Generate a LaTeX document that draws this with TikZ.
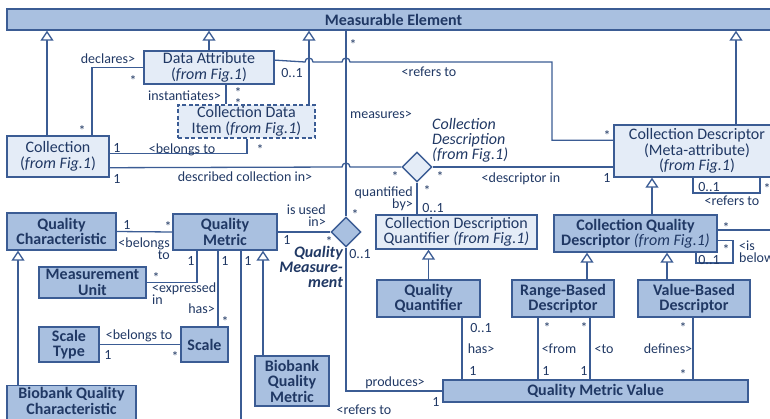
\documentclass[tikz,border=0pt]{standalone}
\usepackage{fontspec}
\setmainfont{Carlito}
\usetikzlibrary{positioning,arrows.meta,calc,shapes.geometric}
\definecolor{navy700}{HTML}{3B5C94}
\definecolor{navy900}{HTML}{203864}
\definecolor{navy300}{HTML}{A9C0E0}
\definecolor{navy100}{HTML}{E4ECF7}
\newcommand{\fromfig}{\textit{from Fig.1}}
\tikzset{
  cls/.style  ={draw=navy700, line width=1.4pt, fill=navy100, align=center,
                inner sep=2pt, text=navy900,
                font=\fontsize{16}{15.5}\selectfont},
  clsq/.style ={cls, fill=navy300,
                font=\bfseries\fontsize{16}{15.5}\selectfont},
  clsn/.style ={cls, dash pattern=on 4pt off 2.5pt},
  dia/.style  ={diamond, draw=navy700, line width=1.4pt, fill=navy100,
                minimum width=30pt, minimum height=30pt, inner sep=0pt},
  diaq/.style ={dia, fill=navy300},
  ln/.style   ={draw=navy700, line width=1.3pt},
  gen/.style  ={ln, -{Triangle[length=10pt,width=13pt,fill=white]}},
  lab/.style  ={font=\fontsize{14}{12}\selectfont, text=navy900,
                inner sep=0pt, anchor=base},
  labr/.style ={lab, anchor=base east, align=right},
  labl/.style ={lab, anchor=base west, align=left},
  note/.style ={font=\itshape\fontsize{16}{15}\selectfont, text=navy900,
                align=left, inner sep=0pt},
  noteb/.style={note, font=\bfseries\itshape\fontsize{16}{15}\selectfont,
                align=right}
}
\begin{document}
\begin{tikzpicture}[x=1pt,y=-1pt]
\useasboundingbox (0,0) rectangle (770,418);
\clip (0,0) rectangle (770,418);
% classes, centres in pixels of the page
\node[clsq, minimum width=773pt, minimum height=21pt] (me) at (393.5,19.5)
  {Measurable Element};
\node[cls, minimum width=130pt, minimum height=31pt] (da) at (209,67.5)
  {Data Attribute\\(\fromfig)};
\node[clsn, minimum width=137pt, minimum height=31pt] (cdi) at (246.5,121.5)
  {Collection Data\\Item (\fromfig)};
\node[cls, minimum width=102pt, minimum height=41pt] (coll) at (58,156.5)
  {Collection\\(\fromfig)};
\node[cls, minimum width=166pt, minimum height=52pt] (cdesc) at (697,151)
  {Collection Descriptor\\(Meta-attribute)\\(\fromfig)};
\node[cls, minimum width=161pt, minimum height=34pt] (cdq) at (456.5,232)
  {Collection Description\\Quantifier \textit{(from Fig.1)}};
\node[clsq, minimum width=103pt, minimum height=37pt] (qq) at (428.5,298.5)
  {Quality\\Quantifier};
\node[clsq, minimum width=305pt, minimum height=22pt] (qmv) at (595.5,391)
  {Quality Metric Value};
\node[clsq, minimum width=163pt, minimum height=37pt] (cqd) at (635.5,233.5)
  {Collection Quality\\Descriptor {\mdseries\itshape (from Fig.1)}};
\node[clsq, minimum width=109pt, minimum height=37pt] (qc) at (61.5,231.5)
  {Quality\\Characteristic};
\node[clsq, minimum width=104pt, minimum height=36pt] (qm) at (225,232)
  {Quality\\Metric};
\node[clsq, minimum width=107pt, minimum height=31pt] (mu) at (92.5,282.5)
  {Measurement\\Unit};
\node[clsq, minimum width=60pt, minimum height=35pt] (st) at (69,344.5)
  {Scale\\Type};
\node[clsq, minimum width=47pt, minimum height=35pt] (sc) at (204.5,344.5)
  {Scale};
\node[clsq, minimum width=129pt, text depth=9pt, anchor=north] (bqc)
  at (71.5,385) {Biobank Quality\\Characteristic};
\node[clsq, minimum width=74pt, minimum height=50pt] (bqm) at (292,381)
  {Biobank\\Quality\\Metric};
\node[clsq, minimum width=102pt, minimum height=37pt] (rbd) at (563,298.5)
  {Range-Based\\Descriptor};
\node[clsq, minimum width=112pt, minimum height=37pt] (vbd) at (694,298.5)
  {Value-Based\\Descriptor};
\node[dia] (cdia) at (417,167) {};
\node[diaq] (qdia) at (346,232) {};
\node[note, anchor=west] (cdia-name) at (432,140)
  {Collection\\Description\\(from Fig.1)};
\node[noteb, anchor=east] (qdia-name) at (343,267)
  {Quality\\Measure-\\ment};

% generalisations
\draw[gen] (coll.north -| 47,0) -- (me.south -| 47,0);
\draw[gen] (da.north) -- (me.south -| da.north);
\draw[gen] (cdi.north -| 309,0) -- (me.south -| 309,0);
\draw[gen] (cdesc.north -| 736,0) -- (me.south -| 736,0);
\draw[gen] (cqd.north -| 652,0) -- (cdesc.south -| 652,0);
\draw[gen] (qq.north) -- (cdq.south -| qq.north);
\draw[gen] (rbd.north -| 587,0) -- (cqd.south -| 587,0);
\draw[gen] (vbd.north -| 667,0) -- (cqd.south -| 667,0);
\draw[gen] (bqc.north -| 18,0) -- (qc.south -| 18,0);
\draw[gen] (bqm.north -| 263,0) -- (qm.south -| 263,0);

% associations (the level lines hop over the verticals)
\draw[ln] (da.west) -| (coll.north -| 92,0);
\draw[ln] (da.south -| 226,0) -- (cdi.north -| 226,0);
\draw[ln] ($(coll.north east)+(0,18)$) -| (cdi.south -| 247,0);
\draw[ln] ($(da.north east)+(0,10)$) -- (305,62)
  arc[start angle=180, end angle=360, radius=4] -- (342,62)
  arc[start angle=180, end angle=360, radius=4] -- (552,62)
  |- ($(cdesc.north west)+(0,16)$);
\draw[ln] ($(coll.south east)+(0,-10)$) -- (342,167)
  arc[start angle=180, end angle=360, radius=4] -- (cdia.west);
\draw[ln] (cdia.east) -- (cdia.east -| cdesc.west);
\draw[ln] (cdia.south) -- (cdq.north -| cdia.south);
\draw[ln] (cdesc.south -| 693,0) |- (760,193) -- (cdesc.south -| 760,0);
\draw[ln] (me.south -| qdia.north) -- (qdia.north);
\draw[ln] (qm.east) -- (qdia.west);
\draw[ln] (qdia.south) |- (qmv.west);
\draw[ln] (qc.east) -- (qm.west);
\draw[ln] (qm.south -| 197,0) |- (mu.east);
\draw[ln] (qm.south -| 218,0) -- (sc.north -| 218,0);
\coordinate (qm-out) at (241,425);
\draw[ln] (qm.south -| qm-out) -- (qm-out);
\draw[ln] (st.east) -- (sc.west);
\draw[ln] (qq.south -| 462,0) -- (qmv.north -| 462,0);
\draw[ln] (rbd.south -| 538,0) -- (qmv.north -| 538,0);
\draw[ln] (rbd.south -| 590,0) -- (qmv.north -| 590,0);
\draw[ln] (vbd.south -| 693,0) -- (qmv.north -| 693,0);
\coordinate (cqd-out) at (775,230);
\draw[ln] (cqd.east |- cqd-out) -- (cqd-out);
\draw[ln] ($(cqd.north east)+(0,26)$) -| (733,263) -| (cqd.south -| 696,0);

% role names and multiplicities
\node[lab] (l-decl) at (108,63) {declares>};
\node[lab] (m-decl-da) at (133,85) {*};
\node[lab] (m-decl-co) at (82,135) {*};
\node[labr] (l-inst) at (221,100) {instantiates>};
\node[lab] (m-inst-da) at (238,97) {*};
\node[lab] (m-inst-cdi) at (238,108) {*};
\node[lab] (m-ref-da) at (292,77) {0..1};
\node[lab] (l-ref) at (429,76) {<refers to};
\node[lab] (m-ref-cd) at (607,140) {*};
\node[lab] (m-bel-co) at (117,152) {1};
\node[lab] (l-bel) at (182,153) {<belongs to};
\node[lab] (m-bel-cdi) at (260,154) {*};
\node[lab] (m-desc-co) at (117,183) {1};
\node[lab] (l-desc) at (245,181) {described collection in>};
\node[lab] (m-cdia-l) at (395,181) {*};
\node[lab] (m-cdia-r) at (440,181) {*};
\node[lab] (l-descr) at (521,182) {<descriptor in};
\node[lab] (m-descr-cd) at (607,182) {1};
\node[lab] (m-self-a) at (709,191) {0..1};
\node[lab] (m-self-b) at (767,193) {*};
\node[lab] (l-self) at (732,205) {<refers to};
\node[lab] (m-quant-a) at (427,195) {*};
\node[labr] (l-quant) at (413,208) {quantified\\by>};
\node[lab] (m-quant-b) at (433,212) {0..1};
\node[lab] (l-meas) at (381,118) {measures>};
\node[lab] (m-meas-me) at (353,49) {*};
\node[lab] (m-meas-qd) at (355,219) {*};
\node[labr] (l-used) at (326,226) {is used\\in>};
\node[lab] (m-used-qm) at (287,244) {1};
\node[lab] (m-used-qd) at (329,246) {*};
\node[lab] (m-prod-qd) at (360,258) {0..1};
\node[lab] (l-prod) at (395,386) {produces>};
\node[lab] (m-prod-qmv) at (436,406) {1};
\node[lab] (l-ref-b) at (364,414) {<refers to};
\node[lab] (m-bel-qc) at (127,229) {1};
\node[lab] (m-bel-qm) at (168,231) {*};
\node[labr] (l-bel-qc) at (170,259) {<belongs\\to};
\node[lab] (m-expr-qm) at (191,265) {1};
\node[lab] (m-has-qm) at (225,265) {1};
\node[lab] (m-out-qm) at (248,265) {1};
\node[lab] (m-expr-mu) at (156,282) {*};
\node[labl] (l-expr) at (152,304) {<expressed\\in};
\node[labr] (l-has) at (215,313) {has>};
\node[lab] (m-has-sc) at (225,326) {*};
\node[lab] (l-bel-st) at (139,339) {<belongs to};
\node[lab] (m-bel-st) at (108,359) {1};
\node[lab] (m-bel-sc) at (175,361) {*};
\node[lab] (m-has-qq) at (481,332) {0..1};
\node[lab] (l-has-qq) at (481,353) {has>};
\node[lab] (m-has-qmv) at (473,375) {1};
\node[lab] (m-from-rbd) at (547,332) {*};
\node[lab] (m-to-rbd) at (584,332) {*};
\node[lab] (l-from) at (559,353) {<from};
\node[lab] (l-to) at (604,353) {<to};
\node[lab] (m-from-qmv) at (546,375) {1};
\node[lab] (m-to-qmv) at (584,375) {1};
\node[lab] (m-def-vbd) at (683,332) {*};
\node[lab] (l-def) at (668,353) {defines>};
\node[lab] (m-def-qmv) at (683,379) {*};
\node[lab] (m-out-cqd) at (726,232) {*};
\node[lab] (m-below-a) at (726,254) {*};
\node[lab] (m-below-b) at (709,264) {0..1};
\node[labl] (l-below) at (739,262) {<is\\below};
\end{tikzpicture}
\end{document}
